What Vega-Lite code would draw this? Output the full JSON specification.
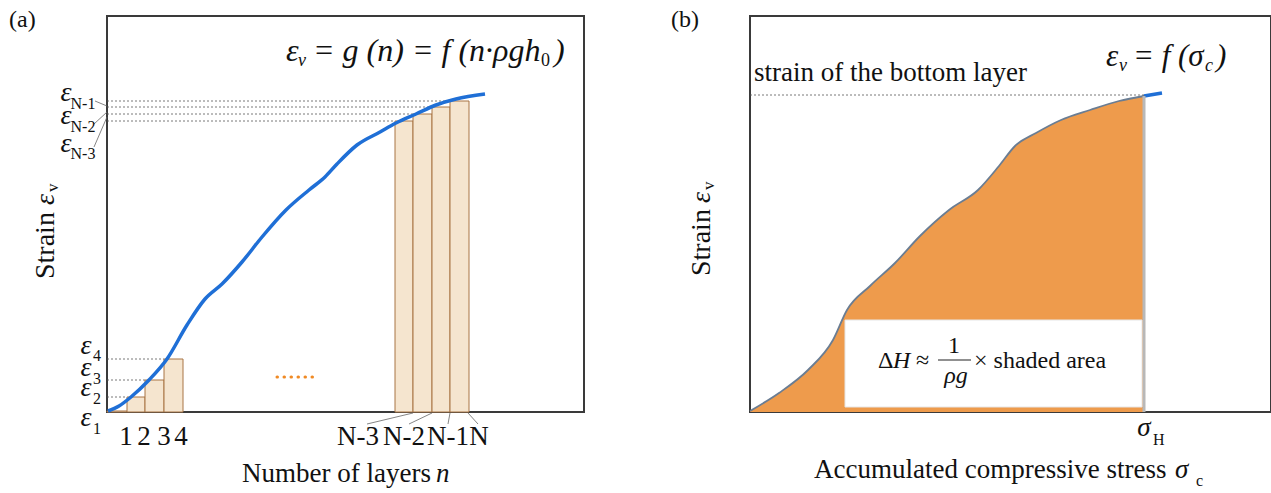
{
  "$schema": "https://vega.github.io/schema/vega-lite/v6.json",
  "padding": {"left": 8, "top": 7, "right": 0, "bottom": 0},
  "background": "white",
  "config": {"view": {"stroke": "#3a3a3a", "strokeWidth": 2}, "axis": {"disable": true}, "concat": {"spacing": 166}},
  "bounds": "flush",
  "datasets": {
    "curveA": [
      {"x": 1, "y": 1}, {"x": 12, "y": 6}, {"x": 24, "y": 15}, {"x": 42, "y": 32}, {"x": 60, "y": 53},
      {"x": 80, "y": 87}, {"x": 98, "y": 113}, {"x": 115, "y": 128}, {"x": 135, "y": 150}, {"x": 155, "y": 175},
      {"x": 179, "y": 202}, {"x": 202, "y": 222}, {"x": 218, "y": 235}, {"x": 230, "y": 248}, {"x": 250, "y": 267},
      {"x": 273, "y": 280}, {"x": 289, "y": 289}, {"x": 309, "y": 298}, {"x": 329, "y": 307}, {"x": 349, "y": 313}, {"x": 378, "y": 318}
    ],
    "barsA": [
      {"x": 0, "x2": 20, "y": 1, "y2": 0}, {"x": 20, "x2": 38, "y": 15, "y2": 0}, {"x": 38, "x2": 57, "y": 32, "y2": 0}, {"x": 57, "x2": 76, "y": 53, "y2": 0},
      {"x": 288, "x2": 306, "y": 291, "y2": 0}, {"x": 306, "x2": 325, "y": 298, "y2": 0}, {"x": 325, "x2": 343, "y": 305, "y2": 0}, {"x": 343, "x2": 362, "y": 311, "y2": 0}
    ],
    "guidesA": [
      {"x": 0, "x2": 20, "y": 15, "y2": 15}, {"x": 0, "x2": 38, "y": 32, "y2": 32}, {"x": 0, "x2": 57, "y": 53, "y2": 53},
      {"x": 0, "x2": 288, "y": 291, "y2": 291}, {"x": 0, "x2": 306, "y": 298, "y2": 298}, {"x": 0, "x2": 325, "y": 305, "y2": 305}, {"x": 0, "x2": 343, "y": 311, "y2": 311}
    ],
    "leadersA": [
      {"x": -12, "y": 311, "x2": 0, "y2": 306}, {"x": -13, "y": 288, "x2": 0, "y2": 300}, {"x": -13, "y": 265, "x2": 0, "y2": 295},
      {"x": 306, "y": -1, "x2": 260, "y2": -12}, {"x": 325, "y": -1, "x2": 302, "y2": -12}, {"x": 343, "y": -1, "x2": 341, "y2": -12}, {"x": 361, "y": -1, "x2": 371, "y2": -12}
    ],
    "dotsA": [{"x": 170, "x2": 208, "y": 35, "y2": 35}],
    "ticksA": [
      {"label": "1", "x": 19, "y": -25}, {"label": "2", "x": 37, "y": -25}, {"label": "3", "x": 57, "y": -25}, {"label": "4", "x": 74, "y": -25},
      {"label": "N-3", "x": 251, "y": -25}, {"label": "N-2", "x": 297, "y": -25}, {"label": "N-1", "x": 341, "y": -25}, {"label": "N", "x": 372, "y": -25}
    ],
    "epsA": [
      {"label": "ε", "x": -21, "y": 66}, {"label": "ε", "x": -21, "y": 44}, {"label": "ε", "x": -21, "y": 24}, {"label": "ε", "x": -21, "y": -6},
      {"label": "ε", "x": -41, "y": 319}, {"label": "ε", "x": -41, "y": 296}, {"label": "ε", "x": -41, "y": 268}
    ],
    "epsSubA": [
      {"label": "4", "x": -10, "y": 56}, {"label": "3", "x": -10, "y": 33}, {"label": "2", "x": -10, "y": 13}, {"label": "1", "x": -10, "y": -17},
      {"label": "N-1", "x": -24, "y": 308}, {"label": "N-2", "x": -24, "y": 285}, {"label": "N-3", "x": -24, "y": 258}
    ],
    "formulaA": [
      {"label": "ε", "x": 179, "y": 351}, {"label": "= g (n) = f (n·ρgh", "x": 206, "y": 351}, {"label": ")", "x": 447, "y": 351}
    ],
    "formulaSubA": [{"label": "v", "x": 191, "y": 346}],
    "formulaSub0A": [{"label": "0", "x": 434, "y": 346}],
    "labelA": [{"label": "(a)", "x": -98, "y": 385}],
    "plainA": [{"label": "Number of layers", "x": 135, "y": -70}],
    "italicA": [{"label": "n", "x": 329, "y": -70}],
    "ytitleA": [{"label": "Strain", "x": -53, "y": 133}],
    "ytitleEpsA": [{"label": "ε", "x": -53, "y": 207}],
    "ytitleSubA": [{"label": "v", "x": -49, "y": 220}],

    "curveB": [
      {"x": 0, "y": 1}, {"x": 29, "y": 19}, {"x": 58, "y": 42}, {"x": 83, "y": 72}, {"x": 97, "y": 102}, {"x": 120, "y": 126},
      {"x": 145, "y": 149}, {"x": 170, "y": 176}, {"x": 199, "y": 202}, {"x": 228, "y": 222}, {"x": 249, "y": 246}, {"x": 265, "y": 266},
      {"x": 286, "y": 279}, {"x": 311, "y": 292}, {"x": 340, "y": 302}, {"x": 369, "y": 311}, {"x": 394, "y": 316}
    ],
    "tailB": [{"x": 394, "y": 316}, {"x": 412, "y": 319}],
    "dashB": [{"x": 0, "x2": 394, "y": 317, "y2": 317}],
    "sigmaLineB": [{"x": 394, "x2": 394, "y": 0, "y2": 316}],
    "boxB": [{"x": 95, "x2": 392, "y": 5, "y2": 92}],
    "fracB": [{"x": 188, "x2": 221, "y": 52, "y2": 52}],
    "labelB": [{"label": "(b)", "x": -79, "y": 385}],
    "plainB": [
      {"label": "strain of the bottom layer", "x": 4, "y": 331},
      {"label": "Accumulated compressive stress", "x": 64, "y": -66}
    ],
    "boxPlainB": [
      {"label": "Δ", "x": 128, "y": 44}, {"label": "≈", "x": 166, "y": 44}, {"label": "× shaded area", "x": 224, "y": 44}
    ],
    "boxItalicB": [{"label": "H", "x": 143, "y": 44}],
    "boxCenterB": [{"label": "1", "x": 204, "y": 59}],
    "boxCenterItalicB": [{"label": "ρg", "x": 206, "y": 29}],
    "italicB": [{"label": "σ", "x": 425, "y": -66}],
    "sigmaHB": [{"label": "σ", "x": 394, "y": -24}],
    "subB": [{"label": "c", "x": 446, "y": -74}, {"label": "H", "x": 403, "y": -33}],
    "formulaB": [{"label": "ε", "x": 356, "y": 346}, {"label": "= f (σ", "x": 383, "y": 346}, {"label": ")", "x": 466, "y": 346}],
    "formulaSubB": [{"label": "v", "x": 369, "y": 341}, {"label": "c", "x": 455, "y": 341}],
    "ytitleB": [{"label": "Strain", "x": -40, "y": 136}],
    "ytitleEpsB": [{"label": "ε", "x": -40, "y": 209}],
    "ytitleSubB": [{"label": "v", "x": -36, "y": 222}]
  },
  "hconcat": [
    {
      "width": 477,
      "height": 396,
      "encoding": {
        "x": {"field": "x", "type": "quantitative", "scale": {"domain": [0, 477], "nice": false, "zero": false}},
        "y": {"field": "y", "type": "quantitative", "scale": {"domain": [0, 396], "nice": false, "zero": false}}
      },
      "layer": [
        {"data": {"name": "guidesA"}, "mark": {"type": "rule", "color": "#555555", "strokeWidth": 0.8, "strokeDash": [2, 2]},
         "encoding": {"x2": {"field": "x2"}, "y2": {"field": "y2"}}},
        {"data": {"name": "barsA"}, "mark": {"type": "rect", "fill": "#f5e5cf", "stroke": "#a87444", "strokeWidth": 1},
         "encoding": {"x2": {"field": "x2"}, "y2": {"field": "y2"}}},
        {"data": {"name": "leadersA"}, "mark": {"type": "rule", "color": "#666666", "strokeWidth": 0.8},
         "encoding": {"x2": {"field": "x2"}, "y2": {"field": "y2"}}},
        {"data": {"name": "dotsA"}, "mark": {"type": "rule", "color": "#f08a24", "strokeWidth": 3, "strokeDash": [0.5, 6.5], "strokeCap": "round"},
         "encoding": {"x2": {"field": "x2"}, "y2": {"field": "y2"}}},
        {"data": {"name": "curveA"}, "mark": {"type": "line", "color": "#1f6fd6", "strokeWidth": 3.5, "interpolate": "monotone"}, "encoding": {}},
        {"data": {"name": "ticksA"}, "mark": {"type": "text", "font": "Liberation Serif", "fontSize": 27, "align": "center", "baseline": "middle", "color": "#111111"},
         "encoding": {"text": {"field": "label"}}},
        {"data": {"name": "epsA"}, "mark": {"type": "text", "font": "Liberation Serif", "fontSize": 28, "fontStyle": "italic", "align": "center", "baseline": "middle", "color": "#111111"},
         "encoding": {"text": {"field": "label"}}},
        {"data": {"name": "epsSubA"}, "mark": {"type": "text", "font": "Liberation Serif", "fontSize": 16, "align": "center", "baseline": "middle", "color": "#111111"},
         "encoding": {"text": {"field": "label"}}},
        {"data": {"name": "formulaA"}, "mark": {"type": "text", "font": "Liberation Serif", "fontSize": 32, "fontStyle": "italic", "align": "left", "baseline": "alphabetic", "color": "#111111"},
         "encoding": {"text": {"field": "label"}}},
        {"data": {"name": "formulaSubA"}, "mark": {"type": "text", "font": "Liberation Serif", "fontSize": 18, "fontStyle": "italic", "align": "left", "baseline": "alphabetic", "color": "#111111"},
         "encoding": {"text": {"field": "label"}}},
        {"data": {"name": "formulaSub0A"}, "mark": {"type": "text", "font": "Liberation Serif", "fontSize": 18, "align": "left", "baseline": "alphabetic", "color": "#111111"},
         "encoding": {"text": {"field": "label"}}},
        {"data": {"name": "labelA"}, "mark": {"type": "text", "font": "Liberation Serif", "fontSize": 24, "align": "left", "baseline": "alphabetic", "color": "#111111"},
         "encoding": {"text": {"field": "label"}}},
        {"data": {"name": "plainA"}, "mark": {"type": "text", "font": "Liberation Serif", "fontSize": 27, "align": "left", "baseline": "alphabetic", "color": "#111111"},
         "encoding": {"text": {"field": "label"}}},
        {"data": {"name": "italicA"}, "mark": {"type": "text", "font": "Liberation Serif", "fontSize": 27, "fontStyle": "italic", "align": "left", "baseline": "alphabetic", "color": "#111111"},
         "encoding": {"text": {"field": "label"}}},
        {"data": {"name": "ytitleA"}, "mark": {"type": "text", "font": "Liberation Serif", "fontSize": 28, "angle": 270, "align": "left", "baseline": "alphabetic", "color": "#111111"},
         "encoding": {"text": {"field": "label"}}},
        {"data": {"name": "ytitleEpsA"}, "mark": {"type": "text", "font": "Liberation Serif", "fontSize": 28, "fontStyle": "italic", "angle": 270, "align": "left", "baseline": "alphabetic", "color": "#111111"},
         "encoding": {"text": {"field": "label"}}},
        {"data": {"name": "ytitleSubA"}, "mark": {"type": "text", "font": "Liberation Serif", "fontSize": 17, "angle": 270, "align": "left", "baseline": "alphabetic", "color": "#111111"},
         "encoding": {"text": {"field": "label"}}}
      ]
    },
    {
      "width": 521,
      "height": 396,
      "encoding": {
        "x": {"field": "x", "type": "quantitative", "scale": {"domain": [0, 521], "nice": false, "zero": false}},
        "y": {"field": "y", "type": "quantitative", "scale": {"domain": [0, 396], "nice": false, "zero": false}}
      },
      "layer": [
        {"data": {"name": "curveB"}, "mark": {"type": "area", "color": "#ee9b4c", "interpolate": "monotone"},
         "encoding": {"y2": {"datum": 0}}},
        {"data": {"name": "curveB"}, "mark": {"type": "line", "color": "#6a7d93", "strokeWidth": 1.8, "interpolate": "monotone"}, "encoding": {}},
        {"data": {"name": "tailB"}, "mark": {"type": "line", "color": "#1f6fd6", "strokeWidth": 3.5}, "encoding": {}},
        {"data": {"name": "dashB"}, "mark": {"type": "rule", "color": "#555555", "strokeWidth": 0.8, "strokeDash": [2, 2]},
         "encoding": {"x2": {"field": "x2"}, "y2": {"field": "y2"}}},
        {"data": {"name": "sigmaLineB"}, "mark": {"type": "rule", "color": "#b8b8b8", "strokeWidth": 3},
         "encoding": {"x2": {"field": "x2"}, "y2": {"field": "y2"}}},
        {"data": {"name": "boxB"}, "mark": {"type": "rect", "fill": "white", "stroke": "#e6e6e6", "strokeWidth": 1},
         "encoding": {"x2": {"field": "x2"}, "y2": {"field": "y2"}}},
        {"data": {"name": "fracB"}, "mark": {"type": "rule", "color": "#222222", "strokeWidth": 1.2},
         "encoding": {"x2": {"field": "x2"}, "y2": {"field": "y2"}}},
        {"data": {"name": "labelB"}, "mark": {"type": "text", "font": "Liberation Serif", "fontSize": 24, "align": "left", "baseline": "alphabetic", "color": "#111111"},
         "encoding": {"text": {"field": "label"}}},
        {"data": {"name": "plainB"}, "mark": {"type": "text", "font": "Liberation Serif", "fontSize": 27, "align": "left", "baseline": "alphabetic", "color": "#111111"},
         "encoding": {"text": {"field": "label"}}},
        {"data": {"name": "boxPlainB"}, "mark": {"type": "text", "font": "Liberation Serif", "fontSize": 24, "align": "left", "baseline": "alphabetic", "color": "#111111"},
         "encoding": {"text": {"field": "label"}}},
        {"data": {"name": "boxItalicB"}, "mark": {"type": "text", "font": "Liberation Serif", "fontSize": 24, "fontStyle": "italic", "align": "left", "baseline": "alphabetic", "color": "#111111"},
         "encoding": {"text": {"field": "label"}}},
        {"data": {"name": "boxCenterB"}, "mark": {"type": "text", "font": "Liberation Serif", "fontSize": 24, "align": "center", "baseline": "alphabetic", "color": "#111111"},
         "encoding": {"text": {"field": "label"}}},
        {"data": {"name": "boxCenterItalicB"}, "mark": {"type": "text", "font": "Liberation Serif", "fontSize": 24, "fontStyle": "italic", "align": "center", "baseline": "alphabetic", "color": "#111111"},
         "encoding": {"text": {"field": "label"}}},
        {"data": {"name": "italicB"}, "mark": {"type": "text", "font": "Liberation Serif", "fontSize": 27, "fontStyle": "italic", "align": "left", "baseline": "alphabetic", "color": "#111111"},
         "encoding": {"text": {"field": "label"}}},
        {"data": {"name": "sigmaHB"}, "mark": {"type": "text", "font": "Liberation Serif", "fontSize": 27, "fontStyle": "italic", "align": "center", "baseline": "alphabetic", "color": "#111111"},
         "encoding": {"text": {"field": "label"}}},
        {"data": {"name": "subB"}, "mark": {"type": "text", "font": "Liberation Serif", "fontSize": 16, "align": "left", "baseline": "alphabetic", "color": "#111111"},
         "encoding": {"text": {"field": "label"}}},
        {"data": {"name": "formulaB"}, "mark": {"type": "text", "font": "Liberation Serif", "fontSize": 31, "fontStyle": "italic", "align": "left", "baseline": "alphabetic", "color": "#111111"},
         "encoding": {"text": {"field": "label"}}},
        {"data": {"name": "formulaSubB"}, "mark": {"type": "text", "font": "Liberation Serif", "fontSize": 18, "fontStyle": "italic", "align": "left", "baseline": "alphabetic", "color": "#111111"},
         "encoding": {"text": {"field": "label"}}},
        {"data": {"name": "ytitleB"}, "mark": {"type": "text", "font": "Liberation Serif", "fontSize": 28, "angle": 270, "align": "left", "baseline": "alphabetic", "color": "#111111"},
         "encoding": {"text": {"field": "label"}}},
        {"data": {"name": "ytitleEpsB"}, "mark": {"type": "text", "font": "Liberation Serif", "fontSize": 28, "fontStyle": "italic", "angle": 270, "align": "left", "baseline": "alphabetic", "color": "#111111"},
         "encoding": {"text": {"field": "label"}}},
        {"data": {"name": "ytitleSubB"}, "mark": {"type": "text", "font": "Liberation Serif", "fontSize": 17, "angle": 270, "align": "left", "baseline": "alphabetic", "color": "#111111"},
         "encoding": {"text": {"field": "label"}}}
      ]
    }
  ]
}
